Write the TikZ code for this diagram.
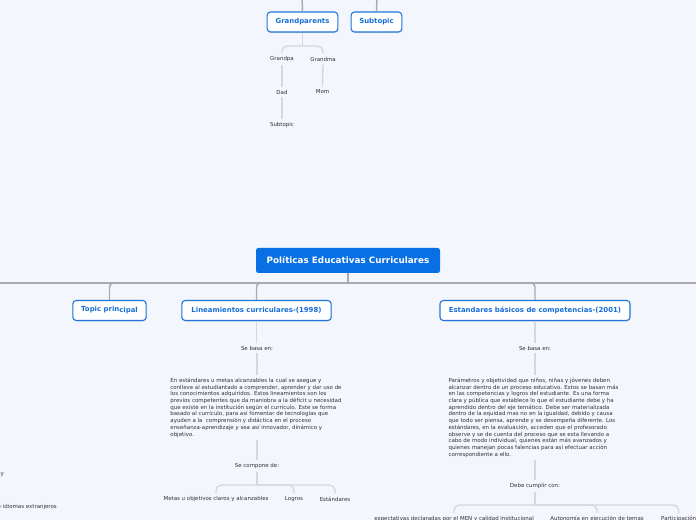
\documentclass[tikz,border=0pt]{standalone}
\usepackage{fontspec}
\setmainfont{DejaVu Sans}
\usetikzlibrary{shadows}
\definecolor{bg}{RGB}{243,246,253}
\definecolor{boxblue}{RGB}{32,116,218}
\definecolor{txtblue}{RGB}{20,110,215}
\definecolor{mainblue}{RGB}{8,112,228}
\definecolor{lightline}{RGB}{212,215,223}
\definecolor{midline}{RGB}{168,170,176}
\definecolor{txtgray}{RGB}{50,50,56}
\begin{document}
\begin{tikzpicture}[x=0.75pt,y=-0.75pt,
  topicbox/.style={draw=boxblue, line width=0.8pt, fill=white, rounded corners=2.5pt,
    font=\fontsize{5.2}{6}\selectfont\bfseries, text=txtblue, minimum height=15pt, inner sep=0pt,
    drop shadow={shadow xshift=0.3pt,shadow yshift=-0.8pt,opacity=0.2}},
  centralbox/.style={fill=mainblue, rounded corners=1.8pt, font=\fontsize{6.6}{8}\selectfont\bfseries,
    text=white, minimum height=18.75pt, minimum width=138pt, inner sep=0pt},
  small/.style={font=\fontsize{4.1}{5}\selectfont, text=txtgray, inner sep=2.2pt},
  para/.style={font=\fontsize{4.1}{5.05}\selectfont, text=txtgray, align=left, inner sep=2pt},
  thinline/.style={draw=lightline, line width=1pt},
  mainline/.style={draw=midline, line width=1.1pt},
  bracket/.style={draw=lightline, line width=1pt, rounded corners=4pt}
]
\fill[bg] (0,0) rectangle (696,520);
\useasboundingbox (0,0) rectangle (696,520);
\clip (0,0) rectangle (696,520);

% ---------- top part ----------
\coordinate (topA) at (302,-5);
\coordinate (topB) at (377,-5);
\node[topicbox, minimum width=53pt] (gp) at (302.5,22) {Grandparents};
\node[topicbox, minimum width=38pt] (sub) at (376.5,22) {Subtopic};
\draw[mainline] (topA) -- (gp.north);
\draw[mainline] (topB) -- (sub.north);

\node[small] (gpa) at (282,59) {Grandpa};
\node[small] (gma) at (323,59) {Grandma};
\node[small] (dad) at (282,92) {Dad};
\node[small] (mom) at (322.5,92) {Mom};
\node[small] (sub2) at (282,125) {Subtopic};
\coordinate (jg) at (302.5,46);
\draw[thinline] (gp.south) -- (jg);
\draw[bracket] (jg) -| (gpa.north);
\draw[bracket] (jg) -| (gma.north);
\draw[thinline] (gpa.south) -- (dad.north);
\draw[thinline] (gma.south) -- (mom.north);
\draw[thinline] (dad.south) -- (sub2.north);

% ---------- central ----------
\node[centralbox] (central) at (348,260.5) {Políticas Educativas Curriculares};
\coordinate (jc) at (348,283);
\coordinate (offL) at (-10,283);
\coordinate (offR) at (706,283);
\node[topicbox, minimum width=55pt] (tp) at (109.5,310.5) {Topic prin\raisebox{-0.8pt}{cipal}};
\node[topicbox, minimum width=112pt] (lin) at (256.5,310.5) {Lineamientos curriculares-(1998)};
\node[topicbox, minimum width=142.5pt] (est) at (535,310.5) {Estandares básicos de competencias-(2001)};
\draw[mainline] (central.south) -- (jc);
\draw[mainline] (jc) -- (offL);
\draw[mainline] (jc) -- (offR);
\draw[mainline, rounded corners=3pt] (jc) -| (tp.north);
\draw[mainline, rounded corners=3pt] (jc) -| (lin.north);
\draw[mainline, rounded corners=3pt] (jc) -| (est.north);

% ---------- Lineamientos branch ----------
\node[small] (sb1) at (257,348) {Se basa en:};
\draw[thinline] (lin.south) -- (lin.south |- sb1.north);
\node[para, anchor=north] (p1) at (256,375) {En estándares u metas alcanzables la cual se asegue y\\
conlleve al estudiantado a comprender, aprender y dar uso de\\
los conocimientos adquiridos. Estos lineamientos son los\\
previos competentes que da maniobra a la déficit u necesidad\\
que existe en la institución según el currículo. Este se forma\\
basado al currículo, para así fomentar de tecnologías que\\
ayuden a la \ comprensión y didáctica en el proceso\\
enseñanza-aprendizaje y sea así innovador, dinámico y\\
objetivo.};
\draw[thinline] (sb1.south) -- (sb1.south |- p1.north);
\node[small] (sc) at (257,466) {Se compone de:};
\draw[thinline] (sb1.south |- p1.south) -- (sc.north);
\coordinate (jsc) at (257,485);
\node[small] (metas) at (216,499) {Metas u objetivos claros y alcanzables};
\node[small] (logros) at (294,499) {Logros};
\node[small] (estd) at (335,499) {Estándares};
\draw[thinline] (sc.south) -- (jsc);
\draw[bracket] (jsc) -| (metas.north);
\draw[bracket] (jsc) -| (logros.north);
\draw[bracket] (jsc) -| (estd.north);

% ---------- Estandares branch ----------
\node[small] (sb2) at (535,348) {Se basa en:};
\draw[thinline] (est.south) -- (est.south |- sb2.north);
\node[para, anchor=north] (p2) at (533.5,375) {Parámetros y objetividad que niños, niñas y jóvenes deben\\
alcanzar dentro de un proceso educativo. Estos se basan más\\
en las competencias y logros del estudiante. Es una forma\\
clara y pública que establece lo que el estudiante debe y ha\\
aprendido dentro del eje temático. Debe ser materializada\\
dentro de la equidad mas no en la igualdad, debido y causa\\
que todo ser piensa, aprende y se desempeña diferente. Los\\
estándares, en la evaluación, acceden que el profesorado\\
observe y se de cuenta del proceso que se esta llevando a\\
cabo de modo individual, quienes están más avanzados y\\
quienes manejan pocas falencias para así efectuar acción\\
correspondiente a ello.};
\draw[thinline] (sb2.south) -- (sb2.south |- p2.north);
\node[small] (dc) at (535,486) {Debe cumplir con:};
\draw[thinline] (sb2.south |- p2.south) -- (dc.north);
\coordinate (jdc) at (535,505);
\node[small] (expe) at (454,519) {expectativas declaradas por el MEN y calidad institucional};
\node[small] (auto) at (597,519) {Autonomía en ejecución de temas};
\node[small, anchor=west] (part) at (658,519) {Participación};
\draw[thinline] (dc.south) -- (jdc);
\draw[bracket] (jdc) -| (expe.north);
\draw[bracket] (jdc) -| (auto.north);
\draw[bracket] (jdc) -| (part.north);

% ---------- cut texts at the left edge ----------
\node[small, anchor=east] (ly) at (7,475) {y};
\node[small, anchor=east] (lid) at (60,507) {e idiomas extranjeros};
\end{tikzpicture}
\end{document}
